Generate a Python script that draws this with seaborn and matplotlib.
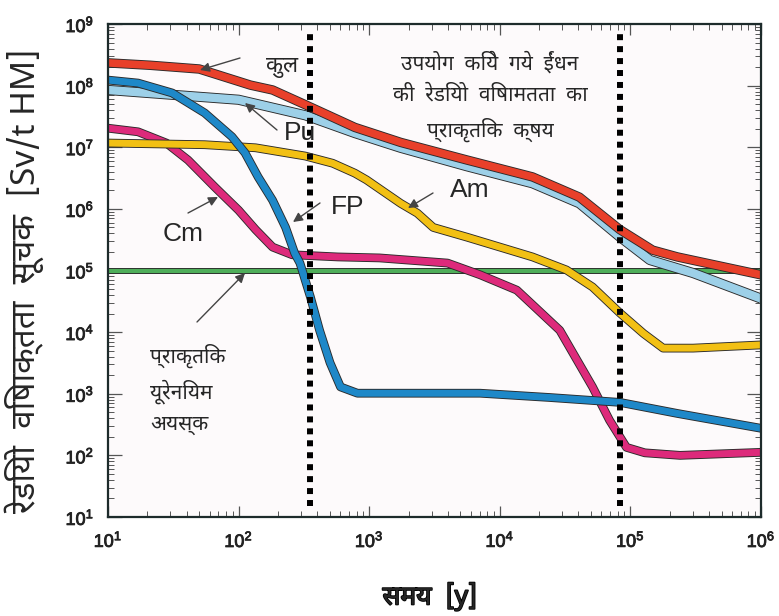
import matplotlib
matplotlib.use("Agg")
import matplotlib.pyplot as plt
import matplotlib.patheffects as pe
from matplotlib import font_manager
from matplotlib.ft2font import FT2Font
import pandas as pd
import seaborn as sns

# --- data (years vs. Sv/t HM) ---
total_years = [10, 21, 50, 123, 182, 324, 776, 1740, 5620, 17800, 40700, 83200, 148000, 229000, 1e6]
total_values = [2.34e8, 2.14e8, 1.86e8, 1.02e8, 8.5e7, 4.9e7, 2.1e7, 1.2e7, 6.2e6, 3.3e6, 1.55e6, 4.6e5, 2.14e5, 1.66e5, 8.5e4]

pu_years = [10, 31, 100, 324, 776, 1740, 5620, 17800, 40700, 83200, 141000, 302000, 1e6]
pu_values = [8.5e7, 7.1e7, 5.9e7, 3.3e7, 1.7e7, 9.8e6, 4.9e6, 2.6e6, 1.23e6, 3.5e5, 1.48e5, 9.1e4, 3.5e4]

am_years = [10, 55, 135, 324, 525, 776, 955, 1740, 2340, 3090, 5620, 1e4, 17800, 32400, 51300, 83200, 126000, 178000, 302000, 1e6]
am_values = [1.17e7, 1.1e7, 9.8e6, 7.2e6, 5.5e6, 3.8e6, 2.95e6, 1.23e6, 8.5e5, 5.0e5, 3.47e5, 2.4e5, 1.66e5, 1.02e5, 5.4e4, 2.04e4, 9.5e3, 5.5e3, 5.5e3, 6.2e3]

cm_years = [10, 17, 28, 41, 66, 100, 135, 182, 257, 575, 1200, 3980, 7080, 13500, 28800, 51300, 69200, 93300, 129000, 240000, 1e6]
cm_values = [2.04e7, 1.78e7, 1.17e7, 6.2e6, 2.24e6, 9.5e5, 4.6e5, 2.4e5, 1.8e5, 1.66e5, 1.6e5, 1.32e5, 8.5e4, 4.8e4, 1.07e4, 1.29e3, 372, 135, 110, 100, 112]

fp_years = [10, 17, 31, 55, 89, 112, 141, 182, 229, 269, 295, 355, 417, 501, 603, 813, 2190, 7080, 24000, 83200, 229000, 1e6]
fp_values = [1.23e8, 1.1e8, 7.6e7, 3.6e7, 1.48e7, 8.1e6, 3.3e6, 1.38e6, 5.0e5, 1.9e5, 1.32e5, 3.7e4, 1.07e4, 3.2e3, 1.29e3, 1.02e3, 1.02e3, 1.02e3, 870, 724, 479, 275]

ore_years = [10, 1e6]
ore_values = [1e5, 1e5]

dotted_years = [352, 83000]

# --- fonts ---
def find_devanagari_family():
    found = []
    for f in font_manager.fontManager.ttflist:
        try:
            if 0x0915 in FT2Font(f.fname).get_charmap():
                found.append(f.name)
        except Exception:
            pass
    def rank(n):
        low = n.lower()
        if "mono" in low:
            return 9
        if "noto sans devanagari" in low and "ui" not in low:
            return 0
        if "devanagari" in low:
            return 1
        if "lohit" in low:
            return 2
        if "freesans" in low:
            return 3
        if "serif" in low:
            return 5
        return 4
    found.sort(key=rank)
    return found[0] if found else "DejaVu Sans"

sns.set_theme(style="ticks")
deva = find_devanagari_family()
names = {f.name for f in font_manager.fontManager.ttflist}
narrow = "Liberation Sans Narrow" if "Liberation Sans Narrow" in names else "Liberation Sans"
plt.rcParams["font.family"] = ["Liberation Sans", deva, "DejaVu Sans"]
plt.rcParams["mathtext.fontset"] = "custom"
plt.rcParams["mathtext.rm"] = narrow + ":bold"
plt.rcParams["mathtext.it"] = narrow + ":bold"
plt.rcParams["mathtext.bf"] = narrow + ":bold"
deva_fam = [deva, "DejaVu Sans"]

W, H = 779, 616
fig = plt.figure(figsize=(W / 100, H / 100), dpi=100)
ax = fig.add_axes([108 / W, 1 - 517 / H, (761 - 108) / W, (517 - 24) / H])
ax.set_facecolor("#fdfafb")

def fxy(px, py):
    return (px / W, 1 - py / H)

series = [
    (ore_years, ore_values, "#4fae5a", 3.0),
    (cm_years, cm_values, "#dd2a7b", 5.0),
    (am_years, am_values, "#f2c014", 5.0),
    (pu_years, pu_values, "#9dd0e8", 6.0),
    (fp_years, fp_values, "#1e88c8", 5.0),
    (total_years, total_values, "#e8402a", 5.5),
]
for yrs, vals, col, lw in series:
    df = pd.DataFrame({"year": yrs, "value": vals})
    sns.lineplot(data=df, x="year", y="value", ax=ax, color=col, lw=lw,
                 estimator=None, solid_joinstyle="round", solid_capstyle="butt",
                 path_effects=[pe.Stroke(linewidth=lw + 1.3, foreground="#2a2a2a"), pe.Normal()])

ax.set_xscale("log")
ax.set_yscale("log")
ax.set_xlim(10, 1e6)
ax.set_ylim(10, 1e9)
ax.set_xlabel("")
ax.set_ylabel("")

for x in dotted_years:
    ax.axvline(x, ymin=0.022, ymax=0.988, color="black", lw=4.3,
               linestyle=(0, (1, 1)), dash_capstyle="butt", zorder=5)

for s in ax.spines.values():
    s.set_linewidth(1.6)
    s.set_color("#1d2b2b")
ax.tick_params(which="both", direction="in", top=True, right=True, color="#555555")
ax.tick_params(which="major", length=8, width=0.9, labelsize=13, pad=10)
ax.tick_params(which="minor", length=4, width=0.7)
ax.tick_params(axis="y", which="major", length=10)

# bolder tick labels, like the scanned original
bold = [pe.withStroke(linewidth=0.6, foreground="#222222")]
for lab in ax.get_xticklabels() + ax.get_yticklabels():
    lab.set_path_effects(bold)
    lab.set_color("#222222")

# --- labels ---
fig.text(0.032, 0.545, "रेडियो  विषाक्तता  सूचक  [Sv/t HM]", rotation=90,
         ha="center", va="center", fontsize=24, family=deva_fam)
fig.text(*fxy(430, 597), "समय  [y]", ha="center", va="center",
         fontsize=19, fontweight="bold", family=deva_fam,
         path_effects=[pe.withStroke(linewidth=1.2, foreground="black")])

fig.text(*fxy(490, 97), "उपयोग  किये  गये  ईंधन\nकी  रेडियो  विषामतता  का\nप्राकृतिक  क्षय",
         ha="center", va="center", fontsize=15, linespacing=1.65, family=deva_fam)
fig.text(*fxy(150, 389), "प्राकृतिक\nयूरेनियम\nअयस्क", ha="left", va="center",
         fontsize=15, linespacing=1.6, family=deva_fam)
fig.text(*fxy(282, 67), "कुल", ha="center", va="center", fontsize=16, family=deva_fam)

for txt, pos in [("Pu", (300, 133)), ("FP", (348, 207)), ("Cm", (183, 234)), ("Am", (470, 190))]:
    fig.text(*fxy(*pos), txt, ha="center", va="center", fontsize=19,
             family=["Liberation Sans", "DejaVu Sans"])

arrows = [((240, 58), (200, 70)), ((277, 130), (245, 103)), ((320, 203), (293, 222)),
          ((188, 213), (218, 197)), ((433, 193), (408, 208)), ((197, 322), (245, 273))]
for tail, head in arrows:
    ax.annotate("", xy=fxy(*head), xycoords="figure fraction",
                xytext=fxy(*tail), textcoords="figure fraction",
                arrowprops=dict(arrowstyle="-|>", color="#444444", lw=1.0,
                                mutation_scale=14, shrinkA=0, shrinkB=0), zorder=6)

fig.savefig("out.png", dpi=100)
